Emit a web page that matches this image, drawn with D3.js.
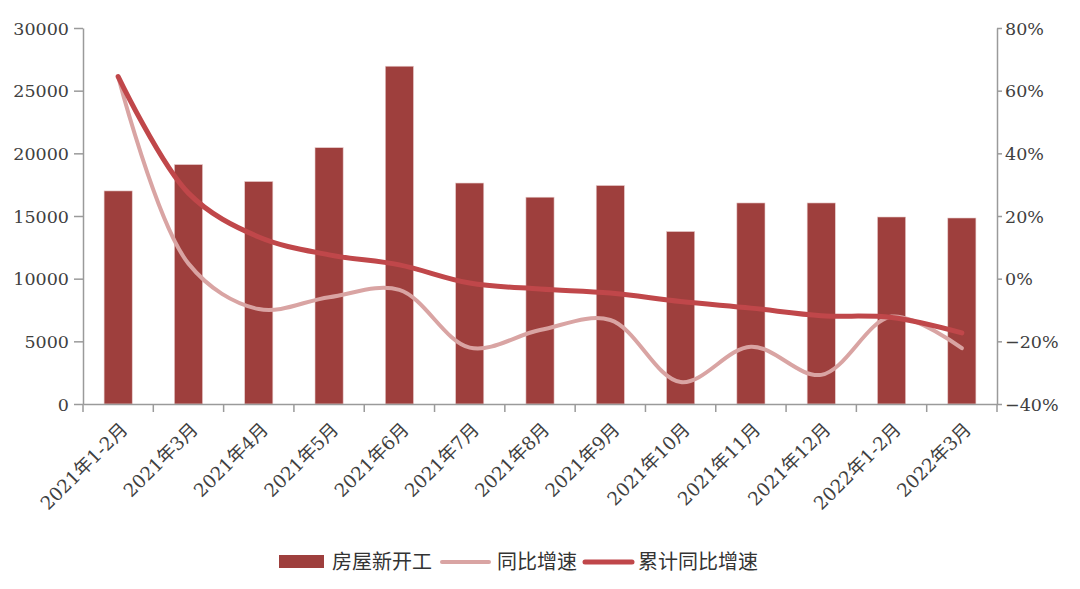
<!DOCTYPE html>
<html><head><meta charset="utf-8">
<script src="https://cdn.jsdelivr.net/npm/d3@7"></script>
<style>
body{margin:0;background:#fff;}
text{font-family:"DejaVu Serif","Noto Sans CJK SC",serif;}
.lg text{font-family:"Noto Sans CJK SC",sans-serif;}
</style></head>
<body><svg id="c" width="1080" height="589"></svg>
<script>
const categories=["2021年1-2月","2021年3月","2021年4月","2021年5月","2021年6月","2021年7月","2021年8月","2021年9月","2021年10月","2021年11月","2021年12月","2022年1-2月","2022年3月"];
const newStarts=[17000,19100,17750,20450,26950,17630,16500,17430,13760,16040,16040,14920,14840];
const yoy=[64.5,4.8,-9.7,-5.9,-3.6,-22,-16.4,-13.2,-33,-21.7,-30.7,-12.1,-22.2];
const cumYoy=[64.5,27.3,13.3,7.6,4.4,-1.4,-3.3,-4.6,-7.3,-9.4,-11.8,-12.4,-17.3];
const leftTicks=[0,5000,10000,15000,20000,25000,30000];
const rightTicks=[-40,-20,0,20,40,60,80];
const legendItems=["房屋新开工","同比增速","累计同比增速"];

const svg=d3.select("#c");
const L=83,R=997,T=28,B=404;
const xb=d3.scaleBand().domain(categories).range([L,R]);
const yL=d3.scaleLinear().domain([0,30000]).range([B,T]);
const yR=d3.scaleLinear().domain([-40,80]).range([B,T]);
const axisCol="#9a9a9a", txtCol="#404040", barCol="#9e3f3d", paleCol="#d9a4a3", darkCol="#c0474a";

// bars
svg.append("g").selectAll("rect").data(newStarts).join("rect")
  .attr("x",(d,i)=>xb(categories[i])+xb.bandwidth()*0.3)
  .attr("width",xb.bandwidth()*0.4)
  .attr("y",d=>yL(d)).attr("height",d=>B-yL(d))
  .attr("fill",barCol).attr("stroke","#e6c9c8").attr("stroke-width",0.6);

// axes
const gL=svg.append("g").attr("transform",`translate(${L},0)`)
  .call(d3.axisLeft(yL).tickValues(leftTicks).tickSize(9).tickPadding(5).tickSizeOuter(0).tickFormat(d3.format("d")));
const gR=svg.append("g").attr("transform",`translate(${R},0)`)
  .call(d3.axisRight(yR).tickValues(rightTicks).tickSize(5).tickPadding(3).tickSizeOuter(0).tickFormat(d=>(d<0?"−":"")+Math.abs(d)+"%"));
const gB=svg.append("g").attr("transform",`translate(0,${B})`)
  .call(d3.axisBottom(xb).tickSize(0).tickSizeOuter(0).tickFormat(""));
gB.selectAll("line.bt").data(categories.concat(["end"])).join("line").attr("class","bt")
  .attr("x1",(d,i)=>L+i*xb.bandwidth()).attr("x2",(d,i)=>L+i*xb.bandwidth())
  .attr("y1",0).attr("y2",8).attr("stroke",axisCol).attr("stroke-width",1.5);
[gL,gR,gB].forEach(g=>{
  g.selectAll(".domain").attr("stroke",axisCol).attr("stroke-width",1.5);
  g.selectAll(".tick line").attr("stroke",axisCol).attr("stroke-width",1.5);
  g.selectAll("text").attr("fill",txtCol).style("font-size","17.5px");
});
gL.selectAll("text").attr("dy","0.35em");
gR.selectAll("text").attr("dy","0.35em");

// x labels
svg.append("g").selectAll("text").data(categories).join("text")
  .attr("transform",d=>`translate(${xb(d)+xb.bandwidth()/2+6},${B+22}) rotate(-45)`)
  .attr("text-anchor","end").attr("dy","0.35em")
  .attr("fill",txtCol).style("font-size","18.5px").text(d=>d);

// lines
const cx=(i)=>xb(categories[i])+xb.bandwidth()/2;
const line=d3.line().x((d,i)=>cx(i)).y(d=>yR(d)).curve(d3.curveCatmullRom.alpha(0.5));
svg.append("path").datum(yoy).attr("d",line).attr("fill","none")
  .attr("stroke",paleCol).attr("stroke-width",4).attr("stroke-linecap","round");
svg.append("path").datum(cumYoy).attr("d",line).attr("fill","none")
  .attr("stroke",darkCol).attr("stroke-width",5).attr("stroke-linecap","round");

// legend
const lg=svg.append("g").attr("class","lg");
const ly=562;
lg.append("rect").attr("x",279).attr("y",ly-7).attr("width",45).attr("height",13).attr("fill",barCol);
lg.append("text").attr("x",332).attr("y",ly).attr("dy","0.35em").text(legendItems[0]);
lg.append("line").attr("x1",442).attr("x2",489).attr("y1",ly).attr("y2",ly).attr("stroke",paleCol).attr("stroke-width",4).attr("stroke-linecap","round");
lg.append("text").attr("x",497).attr("y",ly).attr("dy","0.35em").text(legendItems[1]);
lg.append("line").attr("x1",585).attr("x2",632).attr("y1",ly).attr("y2",ly).attr("stroke",darkCol).attr("stroke-width",5).attr("stroke-linecap","round");
lg.append("text").attr("x",638).attr("y",ly).attr("dy","0.35em").text(legendItems[2]);
lg.selectAll("text").attr("fill","#333").style("font-size","20px");
</script></body></html>
